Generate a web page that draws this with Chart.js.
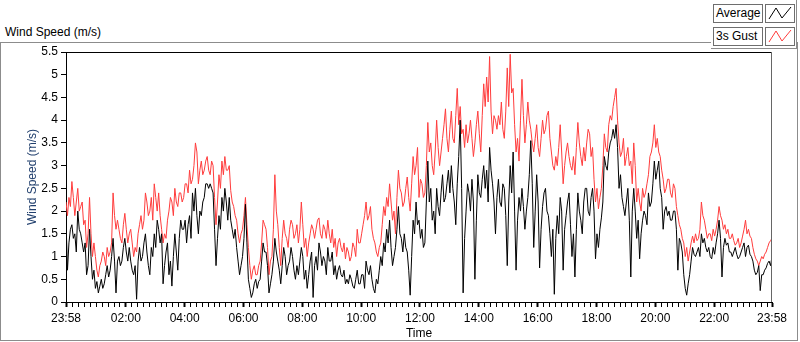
<!DOCTYPE html>
<html>
<head>
<meta charset="utf-8">
<script src="https://cdn.jsdelivr.net/npm/chart.js@4.4.1/dist/chart.umd.min.js"></script>
<style>
  body { margin: 0; background: #fff; font-family: "Liberation Sans", Arial, sans-serif; }
  #wrap { position: relative; width: 800px; height: 342px; overflow: hidden; background: #fff; }
  #frame { position: absolute; left: 0; top: 42px; width: 796px; height: 297px; border: 1px solid #8c8c8c; }
  #title { position: absolute; left: 5px; top: 25px; font-size: 12px; color: #000; }
  #legend { position: absolute; left: 711px; top: 0; width: 85px; height: 48px; background: #fff;
            border-right: 1px solid #8c8c8c; border-bottom: 1px solid #8c8c8c; }
  .lbl { position: absolute; left: 2px; width: 46px; height: 17px; border: 1px solid #6e6e6e;
         font-size: 12px; line-height: 17px; padding-left: 2px; color: #000; }
  .ico { position: absolute; left: 54px; width: 28px; height: 17px; border: 1px solid #6e6e6e; }
  canvas { position: absolute; left: 0; top: 0; }
</style>
</head>
<body>
<div id="wrap">
  <div id="frame"></div>
  <div id="title">Wind Speed (m/s)</div>
  <div id="legend"></div>
  <canvas id="wind" width="800" height="342"></canvas>
</div>
<script>
// one sample every 3 minutes, starting at 23:58
const sampleStep = 3;

const averageSpeed = [
  1.8,0.7,1.3,1.6,1.7,1.4,1.5,1.1,2.0,1.6,
  1.5,1.3,1.1,1.3,0.6,0.8,1.6,1.0,0.5,0.7,
  0.3,0.45,0.2,0.35,0.5,0.3,0.4,0.6,0.8,0.55,
  0.7,1.0,1.4,0.9,0.2,0.9,1.0,0.8,0.9,1.2,
  1.4,1.1,0.9,1.2,0.9,0.7,0.6,0.8,0.06,0.9,
  1.2,0.9,1.0,1.3,1.5,1.1,0.8,0.6,1.2,1.0,
  1.5,1.2,1.8,1.6,1.3,1.5,0.4,0.8,1.1,1.3,
  0.6,0.9,0.35,1.0,1.5,1.1,0.7,1.4,1.8,1.6,
  1.6,1.8,1.3,1.7,1.9,1.4,2.4,2.0,2.5,1.9,
  1.5,2.0,1.9,2.2,2.3,2.6,2.6,2.5,2.6,2.5,
  2.4,1.6,0.8,1.4,1.9,1.6,2.3,2.0,2.5,2.2,
  1.8,2.3,1.8,1.6,1.4,1.6,1.2,0.9,0.6,0.8,
  1.0,1.4,2.15,1.3,0.5,0.3,0.1,0.2,0.4,0.5,
  0.3,0.45,0.5,0.9,1.3,1.1,1.1,0.8,0.2,0.4,
  0.6,0.9,1.4,1.1,0.9,0.7,0.4,0.8,1.2,1.0,
  0.6,0.8,0.9,1.2,1.0,0.7,0.5,0.8,0.6,0.9,
  1.2,1.0,0.5,0.7,0.3,0.6,0.9,1.1,0.1,0.8,
  1.0,0.7,1.3,1.1,0.8,1.0,0.9,0.6,1.2,0.9,
  0.9,1.1,0.6,0.8,0.5,0.7,0.8,0.6,0.55,0.7,
  0.4,0.5,0.4,0.6,0.5,0.35,0.3,0.5,0.7,0.4,
  0.4,0.6,0.6,0.3,0.9,0.7,0.6,0.8,0.5,0.3,
  0.2,0.5,0.4,0.7,1.0,0.8,1.3,1.1,1.6,1.3,
  1.8,1.2,0.8,1.0,1.2,1.6,2.1,1.5,1.4,1.1,
  1.5,1.2,1.1,0.7,0.15,1.0,1.8,1.5,2.2,1.7,
  1.8,1.4,1.6,1.2,1.3,2.2,3.1,2.2,2.5,1.8,
  2.0,1.5,2.5,2.1,1.9,2.4,2.8,2.2,2.3,2.6,
  2.9,2.4,3.0,2.5,2.2,1.7,2.6,3.2,4.0,2.5,
  0.2,1.4,2.0,2.6,2.4,2.0,2.7,2.2,0.5,1.8,
  2.8,2.4,2.3,2.7,3.0,2.5,2.9,2.2,3.4,2.9,
  2.6,2.2,1.5,2.3,2.7,2.2,2.1,2.6,2.5,1.9,
  0.8,2.2,3.0,2.4,3.3,2.0,0.7,1.8,2.3,2.0,
  2.5,2.1,1.6,2.0,2.3,2.8,3.55,2.6,1.2,2.0,
  2.8,2.2,0.75,1.6,2.1,2.4,2.5,2.0,1.9,1.5,
  1.0,1.6,0.17,1.4,1.9,1.5,2.3,2.0,0.7,1.6,
  1.9,2.2,2.4,1.7,1.0,1.5,0.55,1.6,2.4,2.0,
  1.8,1.5,2.2,2.5,2.5,2.0,1.9,2.3,2.5,2.0,
  0.95,1.5,1.2,1.6,1.85,2.2,3.2,3.0,2.9,3.3,
  3.5,3.6,3.8,3.6,3.9,3.4,2.5,2.8,2.3,2.1,
  1.9,2.2,2.5,1.8,0.55,2.0,2.5,2.0,1.4,1.8,
  0.95,1.5,1.8,2.0,1.9,1.7,2.4,2.1,2.2,2.6,
  3.1,2.7,2.9,3.1,2.5,2.3,1.6,2.0,2.1,1.9,
  2.0,1.8,1.8,2.0,2.0,1.6,0.7,1.4,1.3,1.1,
  0.6,0.3,0.15,0.4,0.6,0.9,1.2,1.05,1.0,1.1,
  1.2,1.0,1.5,1.3,1.4,1.2,1.1,1.2,1.0,0.95,
  1.2,1.05,1.3,1.5,1.8,1.4,0.55,1.2,1.4,1.25,
  1.3,1.1,1.1,1.0,1.1,1.2,1.05,0.95,1.0,1.1,
  1.2,1.3,1.0,1.2,1.25,1.05,1.0,0.9,0.7,0.6,
  0.65,0.8,0.25,0.6,0.6,0.7,0.75,0.85,0.9,0.8,
  1.0
];

const gustSpeed = [
  2.2,1.9,2.3,2.1,2.65,2.3,1.9,2.2,2.5,2.0,
  2.1,2.2,1.7,1.8,1.2,1.5,2.3,1.5,1.0,1.3,
  1.0,0.7,0.55,0.8,0.9,1.1,1.0,0.8,1.2,1.0,
  1.1,1.3,2.4,1.9,1.6,1.8,1.6,1.4,1.3,1.7,
  1.95,1.6,1.3,1.5,1.6,1.3,1.0,1.2,1.1,1.5,
  1.7,1.9,1.6,1.8,2.4,2.2,1.9,2.0,2.3,1.8,
  2.6,2.3,2.0,2.4,1.9,1.6,1.3,1.5,1.4,1.8,
  2.0,2.3,2.2,1.9,2.5,2.2,2.1,2.4,2.4,2.2,
  2.3,2.6,2.6,2.4,2.9,2.6,2.7,3.0,3.5,3.3,
  2.6,2.9,3.1,2.8,2.9,3.1,3.2,2.9,2.8,3.1,
  3.0,2.3,1.7,2.2,2.8,2.5,3.1,2.8,3.2,2.9,
  2.9,3.0,2.45,2.2,2.1,1.9,1.8,1.5,1.3,1.5,
  1.6,1.9,2.3,1.7,1.2,0.8,0.5,0.7,0.8,0.6,
  0.6,0.8,0.9,1.3,1.8,1.7,1.6,1.2,0.6,0.9,
  1.0,1.6,2.8,2.0,1.7,1.2,0.8,1.4,1.8,1.5,
  1.4,1.2,1.6,1.8,1.7,1.4,1.5,1.7,1.3,1.6,
  2.2,1.7,1.2,1.4,1.0,1.3,1.5,1.7,1.6,1.4,
  1.6,1.8,1.85,1.5,1.4,1.7,1.6,1.4,1.8,1.5,
  1.3,1.6,1.2,1.4,1.0,1.3,1.4,1.2,1.1,1.3,
  0.95,1.2,1.1,0.9,1.0,1.3,1.2,1.0,1.6,1.3,
  1.3,1.5,1.7,1.9,2.2,1.8,1.9,2.1,1.6,1.4,
  1.3,1.1,1.0,1.2,1.3,1.7,2.1,1.9,2.3,2.1,
  2.6,2.2,1.8,2.0,1.5,2.3,2.9,2.5,2.4,2.1,
  2.2,2.5,2.75,2.3,2.0,2.6,3.2,2.8,3.0,3.4,
  2.3,2.7,2.6,2.3,2.4,3.0,3.95,3.3,3.5,3.0,
  2.8,3.3,4.0,3.4,3.0,3.3,3.6,3.9,4.25,3.6,
  3.3,3.8,4.2,3.6,3.5,4.1,4.7,3.9,4.3,3.7,
  3.8,3.4,3.9,3.5,3.7,4.0,3.6,3.2,3.5,3.9,
  4.2,3.7,3.3,4.1,4.8,4.3,4.95,4.4,5.4,4.2,
  3.7,4.1,4.0,3.8,4.1,3.9,4.4,3.8,3.6,4.2,
  5.15,4.3,5.45,4.6,4.7,3.9,3.3,3.6,3.1,4.0,
  4.9,4.1,3.5,3.9,4.4,4.0,3.8,3.5,3.3,3.6,
  3.9,3.4,3.2,3.6,4.0,3.7,3.8,4.1,4.2,3.6,
  3.3,3.0,2.9,3.2,3.0,3.4,3.9,3.3,2.6,3.0,
  3.3,3.5,3.2,3.0,2.9,3.2,2.8,3.4,3.95,3.5,
  3.2,3.0,3.4,3.1,3.5,3.8,3.7,3.2,3.4,2.7,
  2.2,2.5,2.05,2.3,2.5,3.0,3.7,3.4,3.3,3.9,
  4.1,4.0,4.3,4.5,4.7,4.0,3.5,3.2,3.3,3.6,
  3.0,3.2,3.4,3.0,3.1,2.6,3.5,3.0,2.2,2.5,
  2.2,2.0,2.5,2.3,2.4,2.6,2.8,3.2,3.3,3.5,
  3.9,3.4,3.6,3.3,3.2,2.9,2.7,2.4,2.5,2.7,
  2.7,2.4,2.3,2.6,2.5,2.1,1.9,1.7,1.6,1.4,
  1.3,1.0,1.2,0.9,1.1,1.3,1.45,1.3,1.5,1.35,
  1.4,1.6,2.2,1.9,1.8,1.6,1.4,1.5,1.5,1.35,
  1.6,1.45,1.6,1.8,2.1,1.9,1.8,1.6,1.7,1.5,
  1.6,1.4,1.4,1.5,1.35,1.25,1.3,1.4,1.2,1.3,
  1.45,1.6,1.8,1.5,1.6,1.45,1.4,1.2,1.05,0.95,
  0.9,0.8,0.9,1.0,0.95,1.05,1.1,1.2,1.3,1.35,
  1.4
];

// minutes after 23:58 for each labelled time tick
const tickMinutes = [0, 122, 242, 362, 482, 602, 722, 842, 962, 1082, 1202, 1322, 1440];
const tickLabels = ['23:58','02:00','04:00','06:00','08:00','10:00','12:00','14:00','16:00','18:00','20:00','22:00','23:58'];

const seriesNames = ['Average', '3s Gust'];
const seriesColors = ['#000000', '#ff3c3c'];

const toPoints = arr => arr.map((v, i) => ({ x: i * sampleStep, y: v }));

// legend boxes
const legend = document.getElementById('legend');
seriesNames.forEach((name, i) => {
  const top = 4 + i * 23;
  legend.insertAdjacentHTML('beforeend',
    `<div class="lbl" style="top:${top}px">${name}</div>` +
    `<div class="ico" style="top:${top}px"><svg width="28" height="17">` +
    `<polyline points="3,14 10,3 16,13 25,2" fill="none" stroke="${seriesColors[i]}" stroke-width="1"/></svg></div>`);
});

const plotFrame = {
  id: 'plotFrame',
  afterDatasetsDraw(chart) {
    const { ctx, chartArea: a } = chart;
    ctx.save();
    ctx.lineWidth = 1;
    ctx.strokeStyle = '#000';
    ctx.beginPath();
    ctx.moveTo(a.left, a.top + 0.5);
    ctx.lineTo(a.right, a.top + 0.5);
    ctx.stroke();
    ctx.strokeStyle = '#666';
    ctx.beginPath();
    ctx.moveTo(a.right - 0.5, a.top);
    ctx.lineTo(a.right - 0.5, a.bottom);
    ctx.stroke();
    ctx.restore();
  }
};

Chart.defaults.font.family = '"Liberation Sans", Arial, sans-serif';
Chart.defaults.font.size = 12;
Chart.defaults.color = '#000';

new Chart(document.getElementById('wind'), {
  type: 'line',
  data: {
    datasets: [
      { label: seriesNames[0], data: toPoints(averageSpeed), borderColor: seriesColors[0], borderWidth: 1, pointRadius: 0, tension: 0 },
      { label: seriesNames[1], data: toPoints(gustSpeed), borderColor: seriesColors[1], borderWidth: 1, pointRadius: 0, tension: 0 }
    ]
  },
  options: {
    responsive: false,
    animation: false,
    devicePixelRatio: 1,
    events: [],
    layout: { padding: { left: 0, right: 28, top: 52, bottom: 0 } },
    plugins: { legend: { display: false }, tooltip: { enabled: false } },
    scales: {
      x: {
        type: 'linear', min: 0, max: 1440,
        afterBuildTicks(scale) {
          const t = [0];
          for (let m = 2; m < 1440; m += 12) t.push(m);
          t.push(1440);
          scale.ticks = t.map(v => ({ value: v }));
        },
        ticks: {
          autoSkip: false, maxRotation: 0, padding: 4, color: '#000',
          callback(v) { const k = tickMinutes.indexOf(v); return k < 0 ? '' : tickLabels[k]; }
        },
        grid: {
          drawOnChartArea: false, tickLength: 5, tickColor: '#000',
          tickWidth: c => (c.tick && tickMinutes.includes(c.tick.value)) ? 2 : 1
        },
        border: { color: '#000', width: 1 },
        title: { display: true, text: 'Time', color: '#000', padding: { top: 0, bottom: 1 } },
        afterFit(scale) { scale.height = 40; }
      },
      y: {
        min: 0, max: 5.5,
        ticks: { stepSize: 0.5, padding: 3, color: '#000', callback: v => String(v) },
        grid: { drawOnChartArea: false, tickLength: 5, tickColor: '#000' },
        border: { color: '#000', width: 1 },
        title: { display: true, text: 'Wind Speed (m/s)', color: '#22406e', padding: { top: 25, bottom: 0 } },
        afterFit(scale) { scale.width = 66; }
      }
    }
  },
  plugins: [plotFrame]
});
</script>
</body>
</html>
